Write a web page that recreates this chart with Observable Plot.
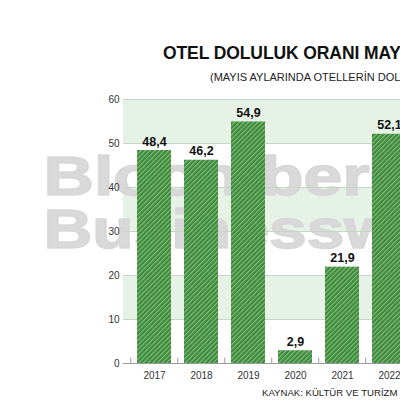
<!DOCTYPE html>
<html>
<head>
<meta charset="utf-8">
<script src="https://cdn.jsdelivr.net/npm/d3@7"></script>
<script src="https://cdn.jsdelivr.net/npm/@observablehq/plot@0.6"></script>
<style>
  html, body { margin: 0; padding: 0; overflow: hidden; width: 400px; height: 400px; background: #fff; }
  #wrap { position: relative; width: 400px; height: 400px; overflow: hidden; font-family: "Liberation Sans", Arial, sans-serif; }
  .t { position: absolute; white-space: nowrap; color: #111; }
  #title { left: 163px; top: 43px; font-size: 17.5px; font-weight: bold; letter-spacing: -0.1px; }
  #subtitle { left: 210px; top: 71px; font-size: 11px; color: #222; }
  #caption { left: 262px; top: 387px; font-size: 9.6px; color: #222; font-weight: 500; }
  #chart { position: absolute; left: 0; top: 90px; width: 420px; }
  #chart svg { max-width: none !important; }
</style>
</head>
<body>
<svg width="0" height="0" style="position:absolute">
  <defs>
    <pattern id="hatch" patternUnits="userSpaceOnUse" width="3.3" height="3.3" patternTransform="rotate(45)">
      <rect width="3.3" height="3.3" fill="#3f883d"></rect>
      <rect width="1.1" height="3.3" fill="#80c27a"></rect>
    </pattern>
  </defs>
</svg>
<div id="wrap">
  <div class="t" id="title">OTEL DOLULUK ORANI MAYIS</div>
  <div class="t" id="subtitle">(MAYIS AYLARINDA OTELLERİN DOLULUK ORANI, %)</div>
  <div id="chart"></div>
  <div class="t" id="caption">KAYNAK: KÜLTÜR VE TURİZM BAKANLIĞI</div>
</div>
<script>
const years = ["2017", "2018", "2019", "2020", "2021", "2022"];
const values = [48.4, 46.2, 54.9, 2.9, 21.9, 52.1];
const yTicks = [0, 10, 20, 30, 40, 50, 60];
const bandLows = [10, 30, 50];
const bandHighs = [20, 40, 60];
const watermark = ["Bloomberg", "Businessweek"];

const data = years.map((y, i) => ({year: y, value: values[i]}));
const bands = bandLows.map((lo, i) => ({lo, hi: bandHighs[i]}));
const fmt = v => d3.format(".1f")(v).replace(".", ",");

const step = 47.5;
const wmStyle = {text: d => d, fontSize: 55, fontWeight: "bold", fill: "#d6d6d6", stroke: "#d6d6d6", strokeWidth: 1.6, fillOpacity: 0.92, strokeOpacity: 0.92, textAnchor: "start", lineAnchor: "bottom", frameAnchor: "top-left"};

const chart = Plot.plot({
  width: 420,
  height: 299,
  marginLeft: 123,
  marginRight: 0,
  marginTop: 9,
  marginBottom: 26,
  style: {fontFamily: "Liberation Sans, Arial, sans-serif", fontSize: "10px", color: "#333", background: "transparent", maxWidth: "none"},
  x: {domain: years, paddingInner: 0.284, paddingOuter: 0.142, insetLeft: 6, insetRight: 6, label: null},
  y: {domain: [0, 60], label: null},
  marks: [
    Plot.rect(bands, {y1: "lo", y2: "hi", fill: "#e6f2e6"}),
    Plot.text([watermark[0]], {...wmStyle, dx: -80, dy: 95}),
    Plot.text([watermark[1]], {...wmStyle, dx: -80, dy: 148}),
    Plot.ruleY(yTicks.filter(t => t > 0), {stroke: "#c6d6c5", strokeWidth: 1}),
    Plot.axisY({ticks: yTicks, tickSize: 0, tickPadding: 4, tickFormat: d => d, fill: "#333"}),
    Plot.axisX({tickSize: 0, tickPadding: 8, fill: "#333"}),
    Plot.barY(data, {x: "year", y: "value", fill: "url(#hatch)"}),
    Plot.ruleY([0], {stroke: "#9a9a9a", strokeWidth: 1}),
    Plot.ruleX(years, {x: d => d, dx: -step / 2, y1: 0, y2: 1.2, stroke: "#9a9a9a", strokeWidth: 1}),
    Plot.text(data, {x: "year", y: "value", text: d => fmt(d.value), lineAnchor: "bottom", dy: -5, fontSize: 12.5, fontWeight: "bold", fill: "#111"})
  ]
});
chart.style.maxWidth = "none";

// stretch the watermark glyphs horizontally (wide brand typeface)
d3.select(chart).selectAll("text").each(function() {
  const t = this.textContent;
  const sx = t === watermark[0] ? 1.27 : t === watermark[1] ? 1.23 : null;
  if (sx) {
    const tr = this.getAttribute("transform") || "";
    this.setAttribute("transform", tr + ` scale(${sx},1)`);
  }
});

document.getElementById("chart").appendChild(chart);
</script>
</body>
</html>
